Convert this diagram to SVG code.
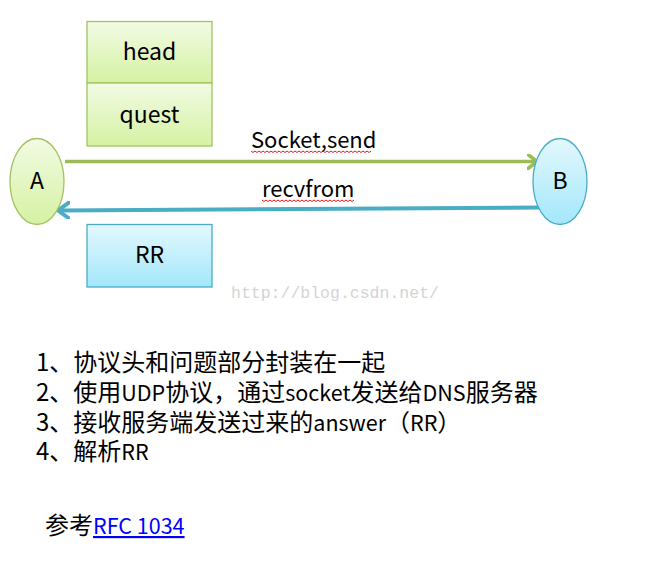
<svg xmlns="http://www.w3.org/2000/svg" width="652" height="565" viewBox="0 0 652 565">
<style>
  text { font-family: "Noto Sans CJK SC", "Liberation Sans", sans-serif; fill: #000; }
  .lbl { font-size: 23px; text-anchor: middle; }
  .elbl { font-size: 22px; }
  .list { font-size: 24px; }
  .lat { font-size: 21.5px; }
  .gbox { fill: url(#gGreen); stroke: #a3c263; stroke-width: 1.3; }
  .bbox { fill: url(#gBlue); stroke: #4bacc6; stroke-width: 1.3; }
  .wavy { fill: none; stroke: #e00000; stroke-width: 0.9; }
  .mark { font-family: "Liberation Mono", "DejaVu Sans Mono", monospace; font-size: 16.5px; fill: #d4d4d4; }
</style>
<defs>
  <linearGradient id="gGreen" x1="0" y1="0" x2="0" y2="1">
    <stop offset="0" stop-color="#f2fbe4"/>
    <stop offset="1" stop-color="#d5f2a2"/>
  </linearGradient>
  <linearGradient id="gBlue" x1="0" y1="0" x2="0" y2="1">
    <stop offset="0" stop-color="#e3f8fd"/>
    <stop offset="1" stop-color="#a3e7fb"/>
  </linearGradient>
  <marker id="arrG" markerWidth="12" markerHeight="16" refX="10" refY="8" orient="auto" markerUnits="userSpaceOnUse">
    <path d="M1,1 L10,8 L1,15" fill="none" stroke="#9bbb59" stroke-width="3.5" stroke-linecap="round" stroke-linejoin="round"/>
  </marker>
  <marker id="arrB" markerWidth="14" markerHeight="18" refX="12" refY="9" orient="auto" markerUnits="userSpaceOnUse">
    <path d="M1,1 L12,9 L1,17" fill="none" stroke="#4bacc6" stroke-width="4" stroke-linecap="round" stroke-linejoin="round"/>
  </marker>
</defs>
<rect width="652" height="565" fill="#fff"/>

<g id="connectors">
  <line x1="65" y1="161.5" x2="537" y2="161.5" stroke="#9bbb59" stroke-width="3.5" marker-end="url(#arrG)"/>
  <line x1="540" y1="207.5" x2="58" y2="210.5" stroke="#4bacc6" stroke-width="4" marker-end="url(#arrB)"/>
</g>

<g id="node-head">
  <rect class="gbox" x="87" y="21.5" width="125" height="61.5"/>
  <text class="lbl" x="149.5" y="60">head</text>
</g>
<g id="node-quest">
  <rect class="gbox" x="87" y="83" width="125" height="63"/>
  <text class="lbl" x="149.5" y="123">quest</text>
</g>
<g id="node-A">
  <ellipse cx="37" cy="181.5" rx="27" ry="43" fill="url(#gGreen)" stroke="#a3c263" stroke-width="1.3"/>
  <text class="lbl" x="37" y="189">A</text>
</g>
<g id="node-B">
  <ellipse cx="560" cy="181.5" rx="27" ry="43" fill="url(#gBlue)" stroke="#4bacc6" stroke-width="1.3"/>
  <text class="lbl" x="560" y="189">B</text>
</g>
<g id="node-RR">
  <rect class="bbox" x="87" y="224.5" width="125" height="62.5"/>
  <text class="lbl" x="149.5" y="263">RR</text>
</g>

<g id="edge-labels">
  <text class="elbl" x="251" y="148">Socket,send</text>
  <polyline class="wavy" points="251,151 253,152.5 255,151 257,152.5 259,151 261,152.5 263,151 265,152.5 267,151 269,152.5 271,151 273,152.5 275,151 277,152.5 279,151 281,152.5 283,151 285,152.5 287,151 289,152.5 291,151 293,152.5 295,151 297,152.5 299,151 301,152.5 303,151 305,152.5 307,151 309,152.5 311,151 313,152.5 315,151 317,152.5 319,151 321,152.5 323,151 325,152.5 327,151 329,152.5 331,151 333,152.5 335,151 337,152.5 339,151 341,152.5 343,151 345,152.5 347,151 349,152.5 351,151 353,152.5 355,151 357,152.5 359,151 361,152.5 363,151 365,152.5 367,151 369,152.5 371,151"/>
  <text class="elbl" x="262" y="197">recvfrom</text>
  <polyline class="wavy" points="262,200 264,201.5 266,200 268,201.5 270,200 272,201.5 274,200 276,201.5 278,200 280,201.5 282,200 284,201.5 286,200 288,201.5 290,200 292,201.5 294,200 296,201.5 298,200 300,201.5 302,200 304,201.5 306,200 308,201.5 310,200 312,201.5 314,200 316,201.5 318,200 320,201.5 322,200 324,201.5 326,200 328,201.5 330,200 332,201.5 334,200 336,201.5 338,200 340,201.5 342,200 344,201.5 346,200 348,201.5 350,200 352,201.5 354,200"/>
</g>

<text class="mark" x="231" y="298">http://blog.csdn.net/</text>

<g id="notes">
  <text class="list" x="36" y="371">1、协议头和问题部分封装在一起</text>
  <text class="list" x="36" y="401">2、使用<tspan class="lat">UDP</tspan>协议，通过<tspan class="lat">socket</tspan>发送给<tspan class="lat">DNS</tspan>服务器</text>
  <text class="list" x="36" y="431">3、接收服务端发送过来的<tspan class="lat">answer</tspan>（<tspan class="lat">RR</tspan>）</text>
  <text class="list" x="36" y="460">4、解析<tspan class="lat">RR</tspan></text>
  <text class="list" x="45" y="534">参考<tspan class="lat" fill="#0000ff" text-decoration="underline">RFC 1034</tspan></text>
</g>
</svg>
